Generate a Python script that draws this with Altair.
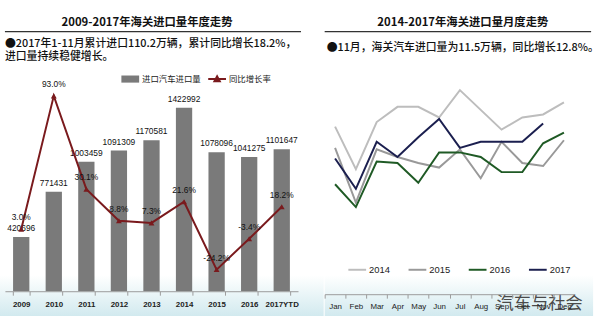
import altair as alt
import pandas as pd

# ---------------- data ----------------
years = ["2009", "2010", "2011", "2012", "2013", "2014", "2015", "2016", "2017YTD"]
volumes = [420696, 771431, 1003459, 1091309, 1170581, 1422992, 1078096, 1041275, 1101647]
growth = [3.0, 93.0, 30.1, 8.8, 7.3, 21.6, -24.2, -3.4, 18.2]

months = ["Jan", "Feb", "Mar", "Apr", "May", "Jun", "Jul", "Aug", "Sep", "Oct", "Nov", "Dec"]
m2014 = [11.3, 8.5, 11.6, 12.6, 12.6, 11.9, 13.7, 12.4, 11.1, 11.9, 12.1, 12.9]
m2015 = [9.9, 6.3, 9.8, 9.3, 8.9, 8.6, 9.8, 7.9, 10.3, 8.9, 8.7, 10.4]
m2016 = [7.5, 6.0, 9.0, 8.9, 7.6, 9.6, 9.6, 9.3, 8.3, 8.3, 10.2, 10.9]
m2017 = [9.2, 7.2, 10.3, 9.3, 10.6, 11.8, 9.9, 10.3, 10.3, 10.3, 11.5]

series_years = ["2014", "2015", "2016", "2017"]
series_colors = ["#bdbdbd", "#999999", "#1f5a25", "#1b1f4f"]

left_title = "2009-2017年海关进口量年度走势"
left_line1 = "●2017年1-11月累计进口110.2万辆，累计同比增长18.2%，"
left_line2 = "进口量持续稳健增长。"
right_title = "2014-2017年海关进口量月度走势"
right_line1 = "●11月，海关汽车进口量为11.5万辆，同比增长12.8%。"
watermark = "汽车与社会"
bar_name = "进口汽车进口量"
line_name = "同比增长率"

CJK = "Noto Sans CJK SC"
LAT = "Liberation Sans"
RED = "#7a1a1d"

df_year = pd.DataFrame({
    "year": years,
    "volume": volumes,
    "growth": growth,
    "vlabel": [str(v) for v in volumes],
    "glabel": [f"{g:.1f}%" for g in growth],
})

rows = []
for y, vals in zip(series_years, [m2014, m2015, m2016, m2017]):
    for m, v in zip(months, vals):
        rows.append({"series": y, "month": m, "value": v})
df_month = pd.DataFrame(rows)

one = pd.DataFrame({"a": [0]})

bg_fill = alt.Gradient(
    gradient="linear",
    stops=[
        alt.GradientStop(color="#ffffff", offset=0),
        alt.GradientStop(color="#ffffff", offset=0.87),
        alt.GradientStop(color="#d2eaef", offset=1),
    ],
    x1=0, x2=0, y1=0, y2=1,
)


def text_layer(txt, x, y, size, weight="normal", align="left", font=CJK, color="#111111"):
    return alt.Chart(pd.DataFrame({"t": [txt]})).mark_text(
        align=align, baseline="middle", fontSize=size, fontWeight=weight,
        font=font, color=color
    ).encode(text="t:N", x=alt.value(x), y=alt.value(y))


# ---------------- left panel ----------------
LW, LH = 297, 213

xL = alt.X(
    "year:N", sort=years,
    scale=alt.Scale(type="band", paddingInner=0.5, paddingOuter=0.25),
    axis=alt.Axis(title=None, labelAngle=0, tickBand="extent", domainColor="#9a9a9a",
                  tickColor="#9a9a9a", tickSize=4, labelFontSize=8, labelFont=LAT,
                  labelFontWeight="bold", labelColor="#222222", labelPadding=5, zindex=1),
)
yBar = alt.Y("volume:Q", scale=alt.Scale(domain=[0, 1629600], nice=False, zero=True), axis=None)
yLine = alt.Y("growth:Q", scale=alt.Scale(domain=[-38.8, 103], nice=False, zero=False), axis=None)

bgL = alt.Chart(one).mark_rect(fill=bg_fill).encode(
    x=alt.value(-5), x2=alt.value(323), y=alt.value(-80), y2=alt.value(238))

bars = alt.Chart(df_year).transform_calculate(s=f"'{bar_name}'").mark_bar().encode(
    x=xL, y=yBar,
    fill=alt.Fill("s:N", scale=alt.Scale(domain=[bar_name], range=["#7a7a7a"]),
                  legend=alt.Legend(orient="none", legendX=117, legendY=-12, title=None,
                                    symbolType="M-1,-0.4L1,-0.4L1,0.4L-1,0.4Z", symbolSize=324,
                                    labelFontSize=8.5, labelFont=CJK, labelColor="#222222",
                                    labelOffset=2, padding=0)),
)
bar_text = alt.Chart(df_year).mark_text(
    baseline="bottom", dy=-4, fontSize=8.5, font=LAT, color="#111111"
).encode(x=xL, y=yBar, text="vlabel:N")

line = alt.Chart(df_year).transform_calculate(s2=f"'{line_name}'").mark_line(strokeWidth=2).encode(
    x=xL, y=yLine,
    stroke=alt.Stroke("s2:N", scale=alt.Scale(domain=[line_name], range=[RED]),
                      legend=alt.Legend(orient="none", legendX=205, legendY=-12, title=None,
                                        symbolType="M-1,0L1,0M-0.3,0.25L0,-0.3L0.3,0.25Z",
                                        symbolSize=324, symbolStrokeWidth=2,
                                        symbolFillColor=RED,
                                        labelFontSize=8.5, labelFont=CJK, labelColor="#222222",
                                        labelOffset=2, padding=0)),
)
pts = alt.Chart(df_year).mark_point(shape="triangle-up", size=35, filled=True, color=RED, opacity=1).encode(
    x=xL, y=yLine)
line_text = alt.Chart(df_year).mark_text(
    baseline="bottom", dy=-7, fontSize=8.5, font=LAT, color="#111111"
).encode(x=xL, y=yLine, text="glabel:N")

underL = alt.Chart(one).mark_rule(color="#333333", strokeWidth=1.2).encode(
    x=alt.value(0), x2=alt.value(300), y=alt.value(-50))

left = alt.layer(
    bgL, bars, bar_text, line, pts, line_text, underL,
    text_layer(left_title, 144, -59, 11.5, weight="bold", align="center"),
    text_layer(left_line1, 0, -38, 11, weight=500),
    text_layer(left_line2, 0, -24, 11, weight=500),
).resolve_scale(y="independent", fill="independent", stroke="independent").properties(width=LW, height=LH)

# ---------------- right panel ----------------
RW, RH = 253, 216
step = RW / 12.0

xR = alt.X(
    "month:N", sort=months,
    scale=alt.Scale(type="point", padding=0.5),
    axis=alt.Axis(title=None, labelAngle=0, domainColor="#9a9a9a", tickColor="#9a9a9a",
                  tickSize=4, tickOffset=-step / 2, labelOffset=step / 2,
                  labelFontSize=8, labelFont=LAT, labelFontWeight="normal",
                  labelColor="#222222", labelPadding=4, zindex=1),
)
yR = alt.Y("value:Q", scale=alt.Scale(domain=[0.26, 14.3], nice=False, zero=False), axis=None)

bgR = alt.Chart(one).mark_rect(fill=bg_fill).encode(
    x=alt.value(0), x2=alt.value(272), y=alt.value(-80), y2=alt.value(238))

# legends are placed relative to the whole chart's origin (left panel), so offset by 323
lines = alt.Chart(df_month).mark_line(strokeWidth=2).encode(
    x=xR, y=yR,
    color=alt.Color("series:N", scale=alt.Scale(domain=series_years, range=series_colors),
                    legend=alt.Legend(orient="none", legendX=347, legendY=181, direction="horizontal",
                                      title=None, symbolType="stroke", symbolSize=324,
                                      symbolStrokeWidth=2, labelFontSize=9.5, labelFont=LAT,
                                      labelColor="#222222", columnPadding=14, labelOffset=2,
                                      padding=0)),
)

underR = alt.Chart(one).mark_rule(color="#333333", strokeWidth=1.2).encode(
    x=alt.value(0), x2=alt.value(270), y=alt.value(-50))

right = alt.layer(
    bgR, lines, underR,
    text_layer(right_title, 140, -59, 11.5, weight="bold", align="center"),
    text_layer(right_line1, 2, -33, 11, weight=500),
    text_layer(watermark, 174, 226, 17.5, color="#4a4a4a"),
).properties(width=RW, height=RH)

chart = alt.hconcat(left, right, spacing=0).properties(padding=0).configure_view(strokeWidth=0)

chart.save("out.html", embed_options={"renderer": "svg", "actions": False})
